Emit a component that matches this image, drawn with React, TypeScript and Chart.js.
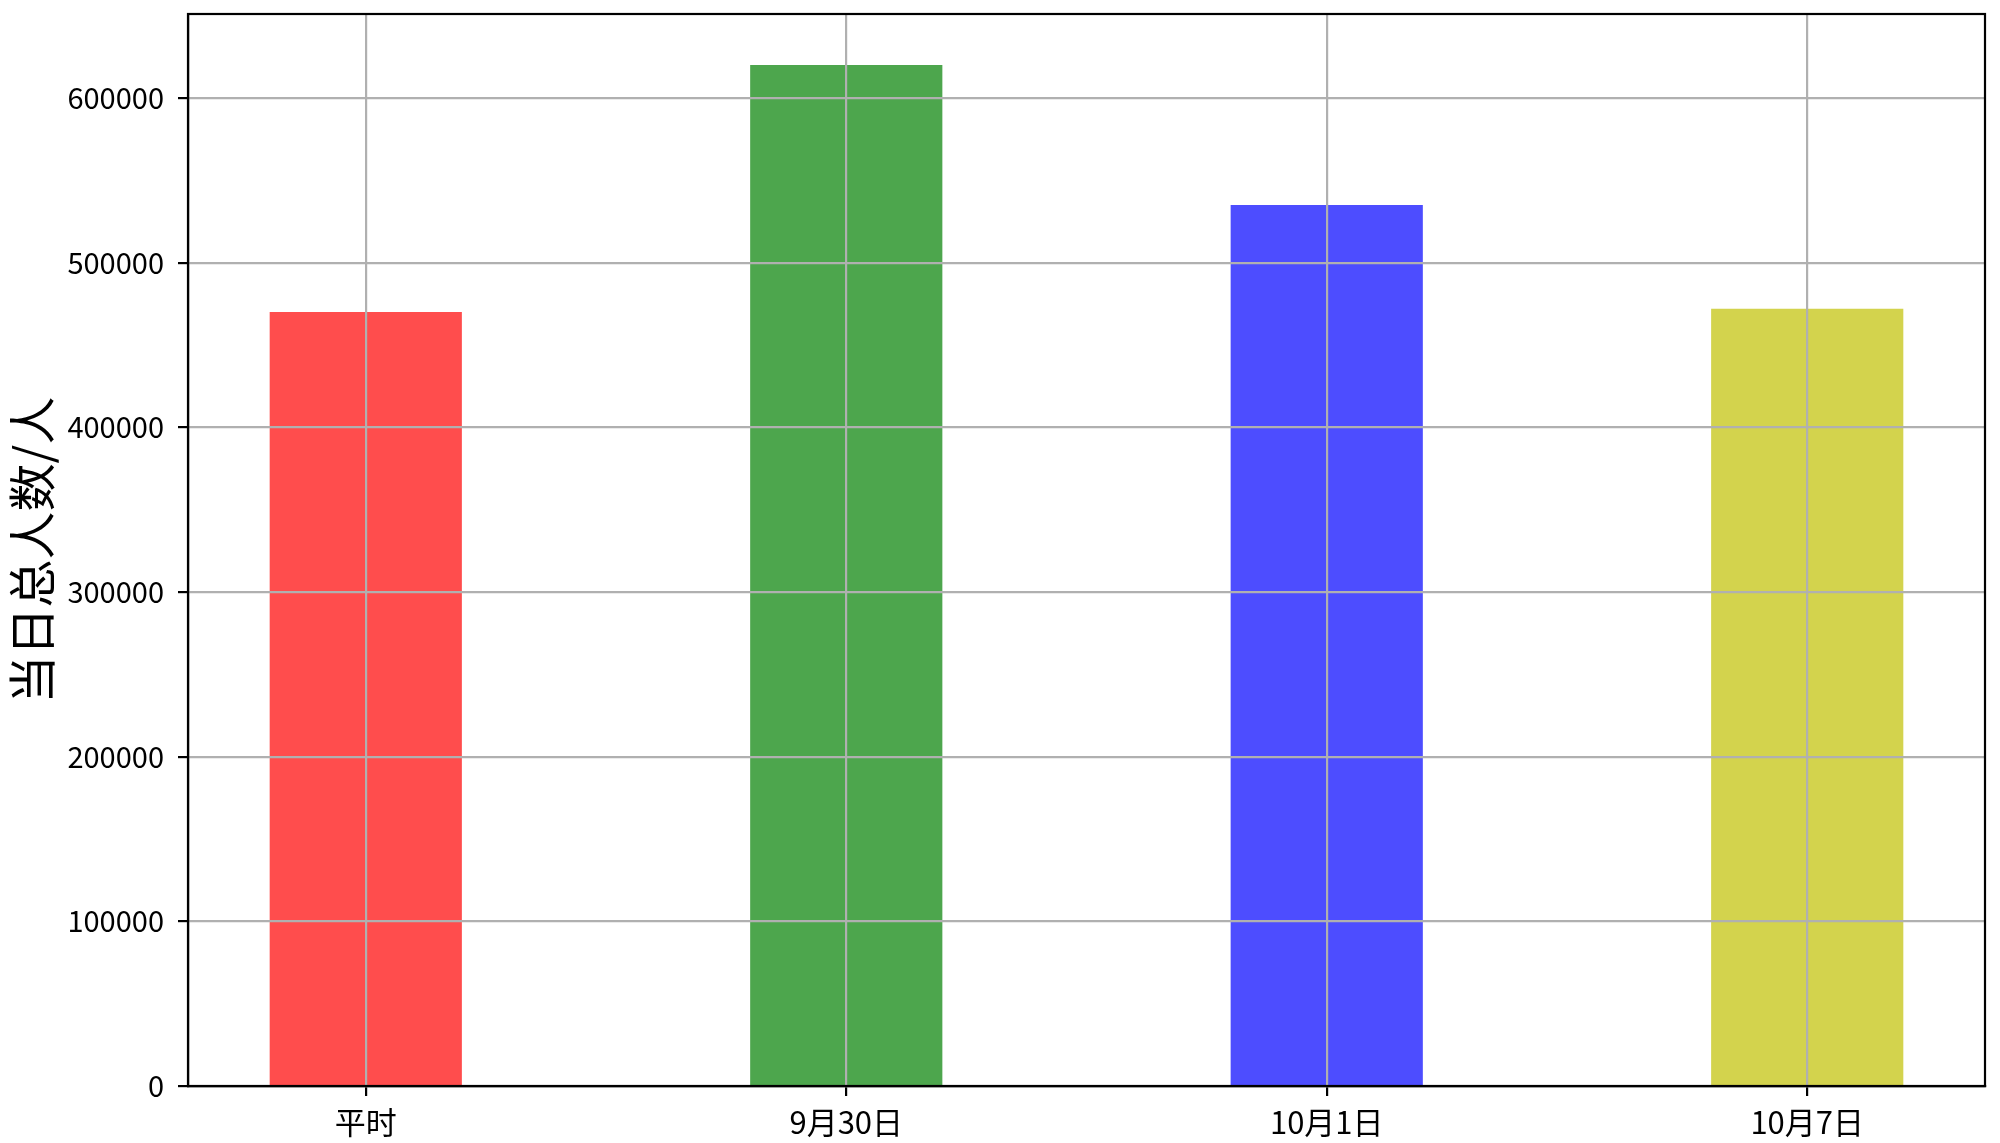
import React, { useEffect, useRef } from "react";
import { Chart, registerables } from "chart.js";

Chart.register(...registerables);

const categories = ["平时", "9月30日", "10月1日", "10月7日"];
const values = [470000, 620000, 535000, 472000];
const barColors = ["#ff4d4d", "#4da64d", "#4d4dff", "#d3d34d"];
const yTicks = [0, 100000, 200000, 300000, 400000, 500000, 600000];
const xTicks = [0, 1, 2, 3];
const yTitle = "当日总人数/人";

const FONT = "'Noto Sans CJK SC', 'Noto Sans', sans-serif";

const frame = {
  id: "frame",
  afterDraw(chart: any) {
    const { ctx, chartArea } = chart;
    ctx.save();
    ctx.strokeStyle = "#000";
    ctx.lineWidth = 2.2;
    ctx.strokeRect(
      chartArea.left,
      chartArea.top,
      chartArea.right - chartArea.left,
      chartArea.bottom - chartArea.top
    );
    ctx.restore();
  },
};

export default function App() {
  const ref = useRef<HTMLCanvasElement | null>(null);
  useEffect(() => {
    if (!ref.current) return;
    const chart = new Chart(ref.current, {
      type: "bar",
      data: {
        datasets: [
          {
            data: values.map((v, i) => ({ x: i, y: v })),
            backgroundColor: barColors,
            borderWidth: 0,
            categoryPercentage: 0.4,
            barPercentage: 1,
          },
        ],
      },
      plugins: [frame],
      options: {
        animation: false,
        responsive: false,
        devicePixelRatio: 1,
        layout: { padding: { left: 0, top: 14, right: 15, bottom: 0 } },
        plugins: { legend: { display: false }, tooltip: { enabled: false } },
        scales: {
          x: {
            type: "linear",
            min: -0.37,
            max: 3.37,
            offset: false,
            afterBuildTicks: (s: any) => {
              s.ticks = xTicks.map((v) => ({ value: v }));
            },
            afterFit: (s: any) => {
              s.height = 57;
              s.paddingLeft = 0;
              s.paddingRight = 0;
            },
            grid: {
              z: 1,
              offset: false,
              color: "#b0b0b0",
              lineWidth: 2.2,
              tickColor: "#000",
              tickWidth: 2.2,
              tickLength: 10,
            },
            border: { z: 2, color: "#000", width: 2.2 },
            ticks: {
              autoSkip: false,
              maxRotation: 0,
              padding: 8,
              color: "#000",
              font: { family: FONT, size: 31 },
              callback: (v: any) => categories[v] ?? "",
            },
          },
          y: {
            type: "linear",
            min: 0,
            max: 651000,
            afterBuildTicks: (s: any) => {
              s.ticks = yTicks.map((v) => ({ value: v }));
            },
            afterFit: (s: any) => {
              s.width = 188;
              s.paddingTop = 0;
              s.paddingBottom = 0;
            },
            grid: {
              z: 1,
              color: "#b0b0b0",
              lineWidth: 2.2,
              tickColor: "#000",
              tickWidth: 2.2,
              tickLength: 10,
            },
            border: { z: 2, color: "#000", width: 2.2 },
            ticks: {
              padding: 14,
              color: "#000",
              font: { family: FONT, size: 29 },
              callback: (v: any) => String(v),
            },
            title: {
              display: true,
              text: yTitle,
              color: "#000",
              padding: { top: 3, bottom: 0 },
              font: { family: FONT, size: 48 },
            },
          },
        },
      },
    } as any);
    return () => chart.destroy();
  }, []);
  return (
    <div style={{ position: "absolute", left: 0, top: 0, width: 2000, height: 1143, background: "#fff" }}>
      <canvas ref={ref} width={2000} height={1143} style={{ width: 2000, height: 1143, display: "block" }} />
    </div>
  );
}
